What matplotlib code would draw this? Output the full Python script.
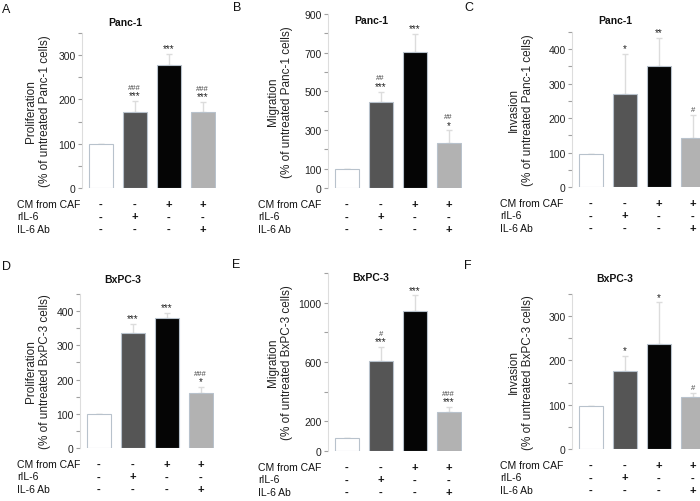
import matplotlib
matplotlib.use("Agg")
import matplotlib.pyplot as plt
from matplotlib.ticker import FixedLocator
import matplotlib.transforms as mtransforms

plt.rcParams['font.family'] = ['Liberation Sans', 'DejaVu Sans']

# data (mean, upper error)
conditions = ["CM from CAF", "rIL-6", "IL-6 Ab"]
signs = [["-", "-", "+", "+"],
         ["-", "+", "-", "-"],
         ["-", "-", "-", "+"]]

prolif_panc = [100, 171, 277, 171]
prolif_panc_err = [0, 25, 25, 23]
migr_panc = [98, 443, 702, 233]
migr_panc_err = [0, 55, 95, 65]
inv_panc = [97, 271, 351, 142]
inv_panc_err = [0, 116, 82, 66]

prolif_bx = [98, 336, 380, 161]
prolif_bx_err = [0, 27, 14, 17]
migr_bx = [88, 604, 944, 263]
migr_bx_err = [0, 97, 105, 34]
inv_bx = [98, 176, 236, 118]
inv_bx_err = [0, 35, 95, 9]

stars = {
    "A": ["", "***", "***", "***"], "B": ["", "***", "***", "*"],
    "C": ["", "*", "**", ""], "D": ["", "***", "***", "*"],
    "E": ["", "***", "***", "***"], "F": ["", "*", "*", ""],
}
hashes = {
    "A": ["", "###", "", "###"], "B": ["", "##", "", "##"],
    "C": ["", "", "", "#"], "D": ["", "", "", "###"],
    "E": ["", "#", "", "###"], "F": ["", "", "", "#"],
}

bar_colors = ["white", "#555555", "#050505", "#b2b2b2"]

W, H = 700, 502
fig = plt.figure(figsize=(7, 5.02), dpi=100)

# panel layout in pixels: spine x, y of zero, y of top, ymax, label right edge
panels = [
    dict(key="A", cell="Panc-1", ylab="Proliferation", vals=prolif_panc, err=prolif_panc_err,
         sx=82, y0=189, ytop=34, ymax=350, major=[0, 100, 200, 300], minor=[50, 150, 250, 350],
         labx=51, labelx=17, lx=2, ly=10),
    dict(key="B", cell="Panc-1", ylab="Migration", vals=migr_panc, err=migr_panc_err,
         sx=328, y0=189, ytop=15, ymax=900, major=[0, 100, 300, 500, 700, 900], minor=[200, 400, 600, 800],
         labx=293, labelx=258, lx=233, ly=8),
    dict(key="C", cell="Panc-1", ylab="Invasion", vals=inv_panc, err=inv_panc_err,
         sx=572, y0=188, ytop=33, ymax=450, major=[0, 100, 200, 300, 400], minor=[50, 150, 250, 350, 450],
         labx=534, labelx=500, lx=464, ly=8),
    dict(key="D", cell="BxPC-3", ylab="Proliferation", vals=prolif_bx, err=prolif_bx_err,
         sx=80, y0=449, ytop=295, ymax=450, major=[0, 100, 200, 300, 400], minor=[50, 150, 250, 350, 450],
         labx=51, labelx=17, lx=2, ly=267),
    dict(key="E", cell="BxPC-3", ylab="Migration", vals=migr_bx, err=migr_bx_err,
         sx=328, y0=452, ytop=274, ymax=1200, major=[0, 200, 600, 1000], minor=[400, 800, 1200],
         labx=293, labelx=258, lx=232, ly=265),
    dict(key="F", cell="BxPC-3", ylab="Invasion", vals=inv_bx, err=inv_bx_err,
         sx=572, y0=450, ytop=295, ymax=350, major=[0, 100, 200, 300], minor=[50, 150, 250, 350],
         labx=534, labelx=500, lx=464, ly=266),
]

dx = 34.0
xl, xr = -0.55, 3.4
x = [0, 1, 2, 3]

for p in panels:
    wpx = (xr - xl) * dx
    ax = fig.add_axes([p["sx"] / W, (H - p["y0"]) / H, wpx / W, (p["y0"] - p["ytop"]) / H])
    ax.bar(x, p["vals"], width=0.7, color=bar_colors, edgecolor="#b8c2cc", linewidth=0.8, zorder=2)
    ax.errorbar(x, p["vals"], yerr=[[0] * 4, p["err"]], fmt="none", ecolor="#dcdcdc",
                elinewidth=1.0, capsize=2.5, capthick=1.0, zorder=1)
    ax.set_xlim(xl, xr)
    ax.set_ylim(0, p["ymax"])
    ax.set_xticks([])
    ax.yaxis.set_major_locator(FixedLocator(p["major"]))
    ax.yaxis.set_minor_locator(FixedLocator(p["minor"]))
    ax.tick_params(axis="y", which="both", length=3, width=0.8, color="#a0a0a0",
                   labelsize=7.5, labelcolor="#222222", pad=1.5)
    for s in ["top", "right", "bottom"]:
        ax.spines[s].set_visible(False)
    ax.spines["left"].set_color("#dddddd")
    ax.spines["left"].set_linewidth(0.8)
    ax.patch.set_alpha(0)

    ax.set_ylabel(p["ylab"] + "\n(% of untreated " + p["cell"] + " cells)", fontsize=8.5,
                  color="#222222", linespacing=1.25)
    ax.yaxis.set_label_coords((p["labx"] - p["sx"]) / wpx, 0.5)

    # significance marks
    for i in x:
        top = p["vals"][i] + p["err"][i]
        if stars[p["key"]][i]:
            ax.annotate(stars[p["key"]][i], (i, top), xytext=(0, 0.5), textcoords="offset points",
                        ha="center", va="bottom", fontsize=7, color="#222222")
        if hashes[p["key"]][i]:
            off = 7.5 if stars[p["key"]][i] else 1.5
            ax.annotate(hashes[p["key"]][i], (i, top), xytext=(0, off), textcoords="offset points",
                        ha="center", va="bottom", fontsize=5.5, color="#444444")

    # panel title and letter
    fig.text((p["sx"] + 43) / W, (H - (p["ly"] + 13)) / H, p["cell"], ha="center", va="center",
             fontsize=7.5, fontweight="bold", color="#111111")
    fig.text(p["lx"] / W, (H - p["ly"]) / H, p["key"], ha="left", va="center", fontsize=9, color="#111111")

    # condition table
    trans = mtransforms.blended_transform_factory(ax.transData, fig.transFigure)
    for r, name in enumerate(conditions):
        ypix = p["y0"] + 16 + r * 12.5
        fig.text(p["labelx"] / W, (H - ypix) / H, name, ha="left", va="center", fontsize=7.5, color="#111111")
        for i in x:
            ax.text(i, (H - ypix) / H, signs[r][i], transform=trans, ha="center", va="center",
                    fontsize=8, fontweight="bold", color="#111111", clip_on=False)

fig.savefig("out.png", dpi=100)
